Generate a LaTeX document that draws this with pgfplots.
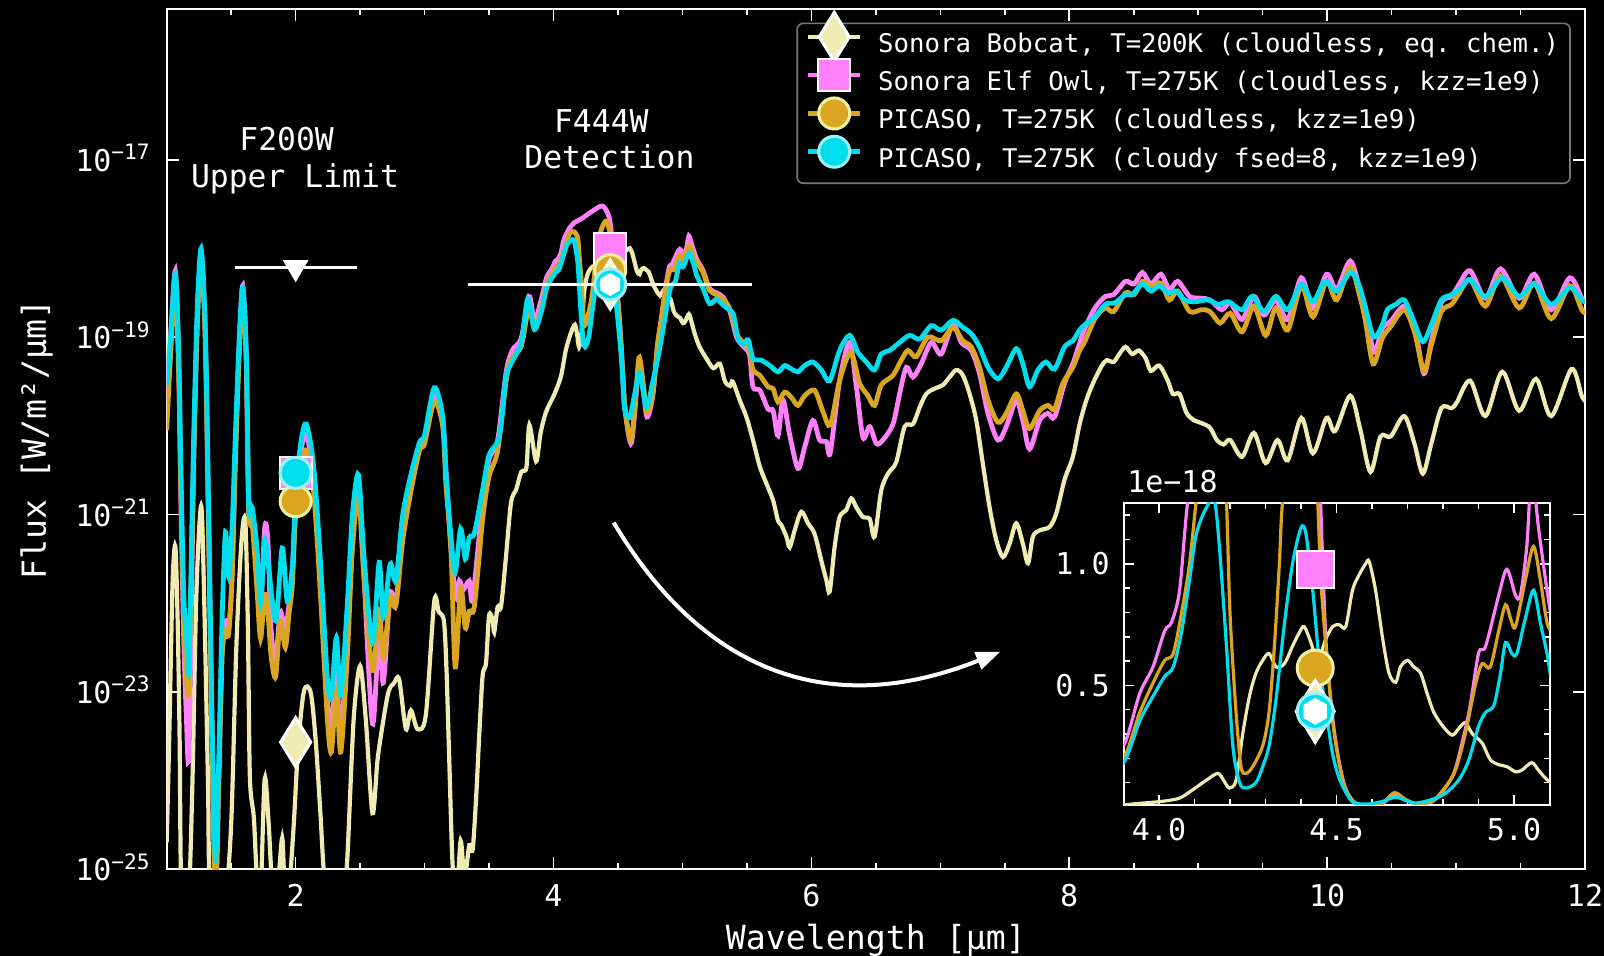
\documentclass[border=0pt]{standalone}
\usepackage{fontspec}
\setmainfont{DejaVu Sans Mono}
\usepackage{pgfplots}
\pgfplotsset{compat=1.18}
\usepackage{pgfplotstable}
\usetikzlibrary{arrows.meta}

\definecolor{bobc}{RGB}{238,236,178}
\definecolor{elfc}{RGB}{255,128,250}
\definecolor{goldc}{RGB}{218,165,32}
\definecolor{cyanc}{RGB}{0,222,238}
\definecolor{cyanlt}{RGB}{160,240,248}
\definecolor{paleedge}{RGB}{240,240,160}
\definecolor{legendgray}{RGB}{120,120,120}

\newcommand{\tickfont}{\fontsize{15}{18}\selectfont}
\newcommand{\labfont}{\fontsize{16.6}{20}\selectfont}
\newcommand{\annfont}{\fontsize{15.7}{19}\selectfont}
\newcommand{\legfont}{\fontsize{12.85}{15}\selectfont}
\newcommand{\expo}[1]{10\raisebox{5.85pt}{\fontsize{10.6}{12}\selectfont #1}}

\pgfdeclareplotmark{hexagon*}{%
  \pgfpathmoveto{\pgfqpointpolar{90}{\pgfplotmarksize}}%
  \pgfpathlineto{\pgfqpointpolar{150}{\pgfplotmarksize}}%
  \pgfpathlineto{\pgfqpointpolar{210}{\pgfplotmarksize}}%
  \pgfpathlineto{\pgfqpointpolar{270}{\pgfplotmarksize}}%
  \pgfpathlineto{\pgfqpointpolar{330}{\pgfplotmarksize}}%
  \pgfpathlineto{\pgfqpointpolar{30}{\pgfplotmarksize}}%
  \pgfpathclose
  \pgfusepathqfillstroke
}

% columns: wavelength [um], log10 flux [W/m^2/um]
\pgfplotstableread{
x lf
1.00 -24.7
1.02 -23.5
1.045 -21.8
1.067 -21.36
1.085 -22.2
1.10 -23.5
1.115 -25.3
1.17 -25.3
1.20 -24.0
1.23 -21.9
1.267 -20.9
1.29 -21.9
1.32 -24.0
1.34 -25.3
1.45 -25.3
1.50 -24.5
1.54 -22.5
1.58 -21.3
1.61 -21.08
1.63 -22.3
1.645 -23.96
1.676 -24.42
1.70 -25.1
1.73 -25.2
1.76 -23.98
1.79 -24.47
1.82 -25.2
1.86 -25.2
1.896 -24.65
1.915 -25.2
1.95 -25.2
1.987 -24.46
2.02 -23.6
2.065 -22.99
2.117 -23.01
2.155 -23.54
2.19 -24.32
2.23 -25.2
2.30 -25.3
2.37 -25.2
2.40 -24.9
2.45 -23.31
2.50 -22.71
2.544 -23.31
2.596 -24.37
2.635 -23.77
2.674 -23.38
2.72 -23.0
2.764 -22.9
2.803 -22.86
2.855 -23.42
2.894 -23.21
2.945 -23.42
3.01 -23.26
3.075 -21.98
3.11 -22.1
3.15 -22.2
3.17 -22.75
3.19 -23.7
3.218 -24.97
3.25 -25.3
3.28 -24.68
3.31 -25.1
3.347 -24.73
3.373 -24.78
3.40 -24.19
3.425 -23.46
3.45 -22.82
3.477 -22.67
3.50 -22.14
3.528 -22.19
3.54 -22.33
3.567 -22.04
3.593 -22.04
3.63 -21.5
3.67 -20.87
3.71 -20.72
3.75 -20.52
3.79 -20.47
3.813 -19.99
3.865 -20.4
3.90 -20.08
3.943 -19.84
4.008 -19.64
4.058 -19.44
4.095 -19.15
4.133 -18.96
4.166 -18.86
4.184 -18.98
4.198 -19.11
4.217 -18.96
4.236 -18.52
4.255 -18.34
4.273 -18.26
4.292 -18.22
4.31 -18.20
4.33 -18.24
4.353 -18.23
4.376 -18.18
4.395 -18.145
4.409 -18.13
4.428 -18.17
4.447 -18.22
4.47 -18.16
4.489 -18.13
4.507 -18.125
4.526 -18.13
4.545 -18.05
4.564 -18.02
4.582 -18.0
4.592 -17.996
4.61 -18.05
4.63 -18.16
4.648 -18.26
4.667 -18.29
4.68 -18.24
4.70 -18.22
4.718 -18.24
4.737 -18.26
4.755 -18.33
4.774 -18.41
4.80 -18.48
4.826 -18.53
4.845 -18.49
4.863 -18.46
4.882 -18.52
4.91 -18.58
4.933 -18.71
4.957 -18.76
4.98 -18.78
5.004 -18.84
5.022 -18.82
5.05 -18.74
5.069 -18.82
5.093 -18.95
5.13 -19.1
5.19 -19.25
5.24 -19.35
5.29 -19.3
5.33 -19.5
5.37 -19.55
5.39 -19.5
5.444 -19.71
5.496 -19.9
5.547 -20.16
5.60 -20.46
5.651 -20.65
5.703 -20.84
5.741 -21.07
5.767 -21.12
5.806 -21.25
5.832 -21.37
5.87 -21.18
5.922 -20.97
5.974 -21.1
6.025 -21.22
6.077 -21.52
6.116 -21.74
6.142 -21.87
6.18 -21.37
6.219 -21.03
6.27 -20.95
6.31 -20.82
6.349 -20.92
6.40 -21.03
6.452 -21.05
6.49 -21.25
6.542 -20.73
6.594 -20.54
6.658 -20.41
6.723 -20.01
6.788 -19.98
6.84 -19.79
6.891 -19.64
6.956 -19.58
7.02 -19.54
7.072 -19.45
7.124 -19.37
7.175 -19.43
7.227 -19.64
7.279 -19.94
7.33 -20.43
7.382 -20.92
7.434 -21.29
7.486 -21.48
7.537 -21.33
7.589 -21.1
7.64 -21.33
7.68 -21.55
7.718 -21.25
7.77 -21.18
7.847 -21.14
7.899 -20.99
7.963 -20.61
8.028 -20.35
8.082 -19.97
8.135 -19.7
8.187 -19.51
8.253 -19.32
8.292 -19.26
8.344 -19.28
8.384 -19.2
8.436 -19.11
8.488 -19.19
8.54 -19.15
8.593 -19.24
8.633 -19.38
8.698 -19.32
8.764 -19.49
8.803 -19.64
8.855 -19.64
8.908 -19.85
8.96 -19.93
9.026 -19.97
9.091 -20.02
9.144 -20.16
9.196 -20.21
9.248 -20.16
9.34 -20.35
9.432 -20.08
9.523 -20.42
9.615 -20.16
9.694 -20.39
9.80 -19.91
9.89 -20.31
9.995 -19.91
10.061 -20.06
10.179 -19.66
10.257 -20.04
10.336 -20.52
10.414 -20.12
10.493 -20.12
10.598 -19.89
10.677 -20.2
10.742 -20.54
10.808 -20.2
10.886 -19.8
10.965 -19.8
11.004 -19.74
11.109 -19.49
11.227 -19.89
11.358 -19.39
11.489 -19.83
11.62 -19.47
11.738 -19.89
11.895 -19.36
11.974 -19.66
12.0 -19.72
}\bobcat

\pgfplotstableread{
x lf
1.00 -19.7
1.03 -19.0
1.067 -18.25
1.093 -19.3
1.111 -20.9
1.132 -22.4
1.153 -23.3
1.171 -23.73
1.197 -21.5
1.21 -20.4
1.236 -18.9
1.267 -18.05
1.30 -19.0
1.326 -21.2
1.352 -23.5
1.378 -25.3
1.404 -24.0
1.43 -22.5
1.456 -22.2
1.48 -22.3
1.507 -21.7
1.533 -20.3
1.565 -19.0
1.59 -18.42
1.617 -19.2
1.637 -20.95
1.663 -21.0
1.70 -21.5
1.728 -22.1
1.76 -21.15
1.785 -21.3
1.81 -22.3
1.845 -22.65
1.88 -22.1
1.92 -22.3
1.95 -22.0
1.974 -21.7
2.00 -20.9
2.04 -20.3
2.083 -20.1
2.14 -20.6
2.19 -21.7
2.246 -23.1
2.277 -23.4
2.316 -22.8
2.35 -23.5
2.40 -22.4
2.44 -21.3
2.487 -20.7
2.53 -21.7
2.596 -23.36
2.648 -22.3
2.68 -22.9
2.733 -21.9
2.777 -22.0
2.83 -21.2
2.894 -20.7
2.96 -20.25
3.00 -20.15
3.075 -19.65
3.14 -19.95
3.166 -20.5
3.205 -21.4
3.243 -21.94
3.27 -21.75
3.30 -21.85
3.347 -21.75
3.373 -21.95
3.45 -20.87
3.50 -20.38
3.567 -20.16
3.632 -19.4
3.68 -19.15
3.75 -19.01
3.81 -18.54
3.852 -18.81
3.904 -18.58
3.946 -18.33
3.983 -18.24
4.016 -18.14
4.035 -18.12
4.058 -18.05
4.081 -17.90
4.12 -17.78
4.16 -17.71
4.22 -17.66
4.30 -17.58
4.38 -17.52
4.43 -17.64
4.455 -17.90
4.47 -18.16
4.489 -18.43
4.507 -18.72
4.526 -19.12
4.554 -19.8
4.60 -20.2
4.63 -19.85
4.663 -19.3
4.694 -19.55
4.725 -19.9
4.77 -19.66
4.807 -19.1
4.835 -18.8
4.873 -18.41
4.90 -18.20
4.92 -18.18
4.957 -18.06
4.98 -18.01
5.004 -18.06
5.018 -18.06
5.036 -17.97
5.05 -17.86
5.069 -17.94
5.093 -18.05
5.11 -18.12
5.16 -18.25
5.21 -18.45
5.264 -18.5
5.316 -18.55
5.37 -18.72
5.42 -19.0
5.47 -19.1
5.52 -19.2
5.547 -19.56
5.60 -19.6
5.664 -19.81
5.703 -19.83
5.741 -20.11
5.78 -19.71
5.83 -20.09
5.896 -20.48
5.948 -20.24
6.012 -19.94
6.064 -20.16
6.116 -20.18
6.147 -20.3
6.219 -19.49
6.297 -19.06
6.349 -19.56
6.40 -20.13
6.452 -20.01
6.504 -20.2
6.555 -20.16
6.633 -19.98
6.684 -19.64
6.736 -19.34
6.788 -19.45
6.852 -19.3
6.93 -19.06
7.007 -19.19
7.098 -18.85
7.162 -19.06
7.24 -19.15
7.304 -19.41
7.37 -19.86
7.447 -20.16
7.511 -20.01
7.589 -19.71
7.64 -19.94
7.692 -20.26
7.77 -19.94
7.834 -19.86
7.886 -19.9
7.963 -19.52
8.028 -19.3
8.08 -19.07
8.12 -18.9
8.20 -18.67
8.28 -18.54
8.344 -18.52
8.436 -18.37
8.502 -18.4
8.567 -18.27
8.633 -18.4
8.711 -18.29
8.777 -18.46
8.842 -18.37
8.934 -18.54
9.026 -18.56
9.091 -18.58
9.183 -18.69
9.248 -18.61
9.34 -18.8
9.432 -18.54
9.51 -18.75
9.602 -18.58
9.694 -18.8
9.80 -18.33
9.89 -18.67
9.995 -18.29
10.074 -18.46
10.179 -18.14
10.257 -18.48
10.297 -18.67
10.362 -19.17
10.428 -18.9
10.493 -18.82
10.598 -18.65
10.677 -18.86
10.75 -19.41
10.808 -19.05
10.886 -18.61
10.965 -18.54
11.017 -18.42
11.109 -18.25
11.227 -18.56
11.345 -18.23
11.489 -18.56
11.607 -18.29
11.738 -18.69
11.882 -18.33
11.974 -18.56
12.0 -18.6
}\elfowl

\pgfplotstableread{
x lf
1.00 -20.05
1.03 -19.2
1.067 -18.4
1.093 -19.4
1.111 -20.8
1.132 -22.1
1.153 -22.85
1.171 -22.95
1.197 -21.3
1.21 -20.3
1.236 -18.9
1.267 -18.1
1.30 -19.1
1.326 -21.3
1.352 -23.6
1.378 -25.3
1.404 -24.0
1.43 -22.6
1.456 -22.3
1.48 -22.35
1.507 -21.7
1.533 -20.4
1.565 -19.1
1.59 -18.55
1.617 -19.3
1.637 -21.0
1.663 -21.1
1.70 -21.84
1.728 -22.4
1.76 -21.9
1.785 -22.1
1.81 -22.6
1.845 -22.83
1.88 -22.2
1.92 -22.5
1.95 -22.1
1.974 -21.8
2.00 -21.0
2.04 -20.5
2.083 -20.28
2.14 -20.75
2.19 -21.84
2.246 -23.3
2.277 -23.68
2.316 -22.99
2.35 -23.68
2.40 -22.62
2.44 -21.4
2.487 -20.78
2.53 -21.7
2.596 -22.76
2.648 -22.08
2.68 -22.62
2.733 -21.94
2.777 -22.03
2.83 -21.3
2.894 -20.74
2.96 -20.28
3.00 -20.2
3.075 -19.73
3.14 -20.0
3.166 -20.67
3.205 -21.4
3.238 -22.72
3.28 -21.82
3.316 -22.28
3.347 -22.09
3.386 -22.04
3.45 -21.06
3.50 -20.57
3.567 -20.28
3.632 -19.5
3.67 -19.25
3.75 -19.1
3.81 -18.66
3.852 -18.91
3.904 -18.68
3.946 -18.41
3.988 -18.28
4.016 -18.22
4.04 -18.20
4.063 -18.10
4.086 -18.0
4.105 -17.90
4.13 -17.82
4.16 -17.81
4.18 -17.85
4.19 -17.90
4.20 -18.10
4.217 -18.41
4.231 -18.78
4.245 -18.86
4.264 -18.78
4.292 -18.60
4.31 -18.41
4.325 -18.18
4.339 -18.0
4.348 -17.90
4.38 -17.75
4.41 -17.69
4.435 -17.8
4.447 -17.90
4.456 -18.03
4.47 -18.18
4.489 -18.45
4.507 -18.74
4.526 -19.15
4.554 -19.8
4.60 -20.16
4.63 -19.8
4.663 -19.23
4.694 -19.5
4.725 -19.84
4.77 -19.64
4.807 -19.08
4.835 -18.82
4.863 -18.52
4.891 -18.30
4.91 -18.23
4.933 -18.24
4.957 -18.14
4.976 -18.08
4.99 -18.11
5.004 -18.13
5.032 -18.03
5.055 -17.97
5.074 -18.03
5.093 -18.12
5.11 -18.15
5.16 -18.27
5.21 -18.47
5.264 -18.52
5.316 -18.57
5.37 -18.69
5.42 -18.96
5.47 -19.06
5.52 -19.15
5.547 -19.37
5.60 -19.43
5.664 -19.56
5.703 -19.58
5.741 -19.73
5.793 -19.62
5.845 -19.68
5.896 -19.77
5.948 -19.66
6.025 -19.6
6.09 -19.84
6.147 -19.99
6.219 -19.49
6.305 -19.17
6.374 -19.52
6.439 -19.66
6.49 -19.77
6.542 -19.54
6.633 -19.43
6.697 -19.26
6.749 -19.15
6.813 -19.22
6.904 -19.0
7.007 -19.04
7.098 -18.89
7.175 -19.04
7.24 -19.11
7.304 -19.34
7.37 -19.71
7.447 -19.96
7.511 -19.86
7.589 -19.64
7.64 -19.83
7.692 -20.03
7.77 -19.83
7.834 -19.77
7.886 -19.81
7.95 -19.52
8.028 -19.34
8.08 -19.15
8.12 -19.05
8.20 -18.79
8.28 -18.67
8.344 -18.71
8.436 -18.5
8.502 -18.52
8.567 -18.37
8.633 -18.42
8.711 -18.39
8.777 -18.58
8.842 -18.48
8.934 -18.71
9.026 -18.69
9.091 -18.71
9.17 -18.84
9.248 -18.73
9.34 -18.94
9.432 -18.65
9.523 -18.98
9.602 -18.67
9.694 -18.92
9.80 -18.42
9.89 -18.77
9.995 -18.37
10.074 -18.58
10.179 -18.21
10.257 -18.56
10.297 -18.82
10.357 -19.3
10.428 -19.01
10.493 -18.88
10.598 -18.69
10.677 -18.94
10.75 -19.38
10.808 -19.09
10.886 -18.71
10.965 -18.63
11.017 -18.52
11.109 -18.35
11.227 -18.65
11.345 -18.31
11.489 -18.67
11.607 -18.39
11.738 -18.79
11.882 -18.42
11.974 -18.69
12.0 -18.72
}\picaso

\pgfplotstableread{
x lf
1.00 -19.54
1.03 -19.0
1.067 -18.28
1.093 -19.17
1.111 -20.55
1.132 -21.89
1.153 -22.39
1.171 -22.76
1.197 -21.0
1.21 -20.09
1.236 -18.71
1.267 -18.0
1.30 -18.94
1.326 -21.0
1.352 -23.31
1.378 -24.9
1.404 -23.76
1.43 -22.16
1.456 -21.2
1.48 -21.7
1.507 -21.15
1.533 -20.09
1.565 -18.94
1.59 -18.44
1.617 -19.17
1.637 -20.92
1.663 -20.92
1.70 -21.38
1.728 -22.0
1.76 -21.29
1.785 -21.52
1.845 -22.2
1.896 -21.38
1.935 -21.98
1.974 -21.59
2.00 -20.78
2.04 -20.19
2.083 -19.98
2.14 -20.46
2.19 -21.47
2.246 -22.85
2.277 -23.04
2.316 -22.39
2.35 -23.04
2.40 -22.03
2.44 -21.01
2.487 -20.55
2.53 -21.47
2.596 -22.44
2.648 -21.54
2.68 -22.16
2.733 -21.56
2.777 -21.74
2.83 -21.01
2.894 -20.55
2.96 -20.19
3.00 -20.1
3.075 -19.57
3.14 -19.89
3.166 -20.52
3.205 -21.26
3.238 -21.65
3.28 -21.16
3.316 -21.5
3.347 -21.26
3.386 -21.21
3.45 -20.72
3.50 -20.33
3.567 -20.18
3.593 -19.99
3.632 -19.45
3.67 -19.30
3.75 -19.06
3.80 -18.57
3.852 -18.91
3.904 -18.72
3.946 -18.45
3.988 -18.33
4.016 -18.27
4.04 -18.24
4.063 -18.145
4.086 -18.03
4.105 -17.95
4.133 -17.91
4.156 -17.90
4.17 -17.97
4.19 -18.18
4.208 -18.60
4.227 -19.0
4.245 -19.11
4.273 -19.0
4.292 -18.78
4.31 -18.6
4.33 -18.35
4.353 -18.125
4.376 -18.0
4.40 -17.94
4.414 -17.95
4.433 -18.05
4.451 -18.22
4.47 -18.40
4.489 -18.66
4.507 -18.92
4.53 -19.3
4.55 -19.79
4.59 -19.91
4.63 -19.64
4.668 -19.4
4.72 -19.79
4.77 -19.5
4.807 -19.25
4.845 -18.95
4.873 -18.71
4.90 -18.48
4.92 -18.41
4.943 -18.38
4.962 -18.26
4.976 -18.17
4.994 -18.20
5.008 -18.20
5.032 -18.11
5.055 -18.05
5.074 -18.12
5.093 -18.2
5.11 -18.3
5.16 -18.45
5.21 -18.62
5.264 -18.57
5.303 -18.62
5.342 -18.67
5.394 -18.74
5.43 -19.01
5.47 -19.08
5.51 -19.03
5.547 -19.24
5.612 -19.26
5.677 -19.32
5.741 -19.39
5.793 -19.32
5.845 -19.36
5.896 -19.39
5.948 -19.32
6.012 -19.28
6.077 -19.37
6.142 -19.49
6.219 -19.15
6.297 -18.98
6.361 -19.17
6.426 -19.28
6.49 -19.37
6.542 -19.19
6.607 -19.15
6.684 -19.06
6.762 -18.98
6.84 -19.02
6.93 -18.87
7.007 -18.92
7.098 -18.81
7.175 -18.89
7.24 -18.96
7.304 -19.11
7.37 -19.34
7.447 -19.47
7.511 -19.34
7.589 -19.13
7.64 -19.30
7.692 -19.56
7.757 -19.37
7.82 -19.28
7.886 -19.36
7.963 -19.11
8.028 -19.04
8.08 -18.92
8.12 -18.86
8.20 -18.77
8.28 -18.63
8.357 -18.61
8.436 -18.52
8.488 -18.52
8.567 -18.4
8.633 -18.48
8.698 -18.42
8.764 -18.5
8.829 -18.48
8.895 -18.58
8.973 -18.6
9.078 -18.58
9.157 -18.63
9.235 -18.6
9.34 -18.69
9.419 -18.54
9.51 -18.71
9.602 -18.54
9.694 -18.69
9.80 -18.4
9.89 -18.6
9.982 -18.37
10.074 -18.48
10.179 -18.27
10.244 -18.4
10.297 -18.67
10.362 -19.0
10.428 -18.86
10.467 -18.69
10.533 -18.63
10.598 -18.58
10.664 -18.79
10.742 -19.05
10.808 -18.86
10.886 -18.58
10.965 -18.52
11.043 -18.44
11.109 -18.35
11.227 -18.54
11.358 -18.33
11.489 -18.54
11.607 -18.40
11.738 -18.63
11.882 -18.44
11.974 -18.58
12.0 -18.6
}\cloudy

\begin{document}
\frenchspacing
\begin{tikzpicture}
\fill[black] (-83.35pt,-43.5pt) rectangle (718.65pt,434.5pt);
\useasboundingbox (-83.35pt,-43.5pt) rectangle (718.65pt,434.5pt);

\begin{axis}[
  at={(0pt,0pt)}, anchor=south west,
  scale only axis, width=709.15pt, height=429.85pt,
  xmin=1, xmax=12, ymode=log, ymin=1e-25, ymax=5e-16,
  clip mode=individual,
  axis line style={white, line width=1pt},
  tick style={white, line width=0.8pt},
  major tick length=6pt, minor tick length=3pt, tick align=inside,
  xtick={2,4,6,8,10,12}, xticklabels={2,4,6,8,10,12},
  minor xtick={1,1.5,2.5,3,3.5,4.5,5,5.5,6.5,7,7.5,8.5,9,9.5,10.5,11,11.5},
  ytick={1e-25,1e-23,1e-21,1e-19,1e-17},
  yticklabels={\expo{−25},\expo{−23},\expo{−21},\expo{−19},\expo{−17}},
  yminorticks=false,
  xticklabel style={font=\tickfont, text=white, anchor=base, yshift=-18.5pt, inner sep=0pt},
  yticklabel style={font=\tickfont, text=white, anchor=base east, yshift=-5.85pt, xshift=-8.3pt, inner sep=0pt},
  xlabel={Wavelength [μm]}, ylabel={Flux [W/m²/μm]},
  every axis x label/.style={at={([yshift=-40pt]axis description cs:0.5,0)}, anchor=base, font=\labfont, text=white},
  every axis y label/.style={at={([xshift=-60.35pt]axis description cs:0,0.5)}, rotate=90, anchor=base, font=\labfont, text=white},
  legend cell align=left,
  legend style={at={(0.990,0.9846)}, anchor=north east,
    fill=black, draw=legendgray, line width=0.8pt, rounded corners=3pt,
    font=\legfont, text=white, inner xsep=5.5pt, inner ysep=5pt,
    row sep=6.65pt, column sep=9pt,
    nodes={inner sep=0pt, text height=9.5pt, text depth=3pt, text=white}},
  legend image code/.code={%
    \path[draw=none, fill=none] (0pt,0pt) rectangle (26pt,1pt);
    \draw[sharp corners, overlay, #1, mark=none, fill=none] (0pt,4.5pt) -- (26pt,4.5pt);
    \path[sharp corners, overlay, draw=none, fill=none, #1] plot coordinates {(13pt,4.5pt)};
  },
]
% legend entries
\addlegendimage{color=bobc, line width=2.3pt, mark=diamond*, mark size=12.25pt, mark options={fill=bobc, draw=white, line width=1.5pt, xscale=0.82}}
\addlegendentry{Sonora Bobcat, T=200K (cloudless, eq. chem.)}
\addlegendimage{color=elfc, line width=2.3pt, mark=square*, mark size=8pt, mark options={fill=elfc, draw=white, line width=1pt}}
\addlegendentry{Sonora Elf Owl, T=275K (cloudless, kzz=1e9)}
\addlegendimage{color=goldc, line width=2.3pt, mark=*, mark size=7.75pt, mark options={fill=goldc, draw=paleedge, line width=1.5pt}}
\addlegendentry{PICASO, T=275K (cloudless, kzz=1e9)}
\addlegendimage{color=cyanc, line width=2.3pt, mark=*, mark size=7.75pt, mark options={fill=cyanc, draw=cyanlt, line width=1.5pt}}
\addlegendentry{PICASO, T=275K (cloudy fsed=8, kzz=1e9)}

% spectra
\addplot[bobc, line width=2.1pt, smooth, forget plot] table[x=x, y expr=10^(\thisrow{lf})] {\bobcat};
\addplot[elfc, line width=2.4pt, smooth, forget plot] table[x=x, y expr=10^(\thisrow{lf})] {\elfowl};
\addplot[goldc, line width=2.4pt, smooth, forget plot] table[x=x, y expr=10^(\thisrow{lf})] {\picaso};
\addplot[cyanc, line width=2.4pt, smooth, forget plot] table[x=x, y expr=10^(\thisrow{lf})] {\cloudy};

% filter widths (F200W upper limit, F444W detection)
\addplot[white, line width=1.9pt, forget plot] coordinates {(1.531,6.1e-19) (2.474,6.1e-19)};
\addplot[white, line width=1.9pt, forget plot] coordinates {(3.336,3.93e-19) (5.543,3.93e-19)};

% model photometry
\addplot[only marks, mark=square*, mark size=8pt, mark options={fill=elfc, draw=white, line width=1pt}, forget plot] coordinates {(2.0,2.95e-21) (4.44,9.8e-19)};
\addplot[only marks, mark=*, mark size=7.75pt, mark options={fill=goldc, draw=paleedge, line width=1.5pt}, forget plot] coordinates {(2.0,1.41e-21) (4.44,5.7e-19)};
\addplot[only marks, mark=diamond*, mark size=12.25pt, mark options={fill=bobc, draw=white, line width=1.5pt, xscale=0.82}, forget plot] coordinates {(2.0,2.7e-24) (4.44,3.93e-19)};
\addplot[only marks, mark=*, mark size=7.75pt, mark options={fill=cyanc, draw=cyanlt, line width=1.5pt}, forget plot] coordinates {(2.0,2.95e-21) (4.44,3.93e-19)};
% observations
\addplot[only marks, mark=triangle*, mark size=7pt, mark options={fill=white, draw=white, rotate=180}, forget plot] coordinates {(2.0,6.1e-19)};
\addplot[only marks, mark=hexagon*, mark size=5.5pt, mark options={fill=white, draw=white}, forget plot] coordinates {(4.44,3.93e-19)};

\node[anchor=base, text=white, font=\annfont, inner sep=0pt] at (axis cs:1.930,1.276e-17) {F200W};
\node[anchor=base, text=white, font=\annfont, inner sep=0pt] at (axis cs:1.995,4.92e-18) {Upper Limit};
\node[anchor=base, text=white, font=\annfont, inner sep=0pt] at (axis cs:4.371,2.06e-17) {F444W};
\node[anchor=base, text=white, font=\annfont, inner sep=0pt] at (axis cs:4.434,7.94e-18) {Detection};

\draw[white, line width=2pt, -{Triangle[length=12pt, width=9pt]}]
  (axis cs:4.467,8.1e-22) .. controls (axis cs:5.171,1.53e-23) and (axis cs:6.168,4.95e-24) .. (axis cs:7.464,2.82e-23);
\end{axis}

\begin{axis}[
  at={(478.4pt,32pt)}, anchor=south west,
  scale only axis, width=213pt, height=151pt,
  xmin=3.9, xmax=5.1, ymin=0.008, ymax=1.25,
  clip mode=individual,
  axis background/.style={fill=black},
  axis line style={white, line width=1pt},
  tick style={white, line width=0.8pt},
  major tick length=5pt, minor tick length=3pt, tick align=inside,
  xtick={4,4.5,5}, xticklabels={4.0,4.5,5.0},
  minor xtick={4.1,4.2,4.3,4.4,4.6,4.7,4.8,4.9},
  ytick={0.5,1.0}, yticklabels={0.5,1.0},
  minor ytick={0.1,0.2,0.3,0.4,0.6,0.7,0.8,0.9,1.1,1.2},
  xticklabel style={font=\tickfont, text=white, anchor=base, yshift=-18pt, inner sep=0pt},
  yticklabel style={font=\tickfont, text=white, anchor=base east, yshift=-5.5pt, xshift=-6.75pt, inner sep=0pt},
]
\addplot[bobc, line width=1.6pt, smooth, restrict x to domain=3.7:5.3] table[x=x, y expr=10^(\thisrow{lf}+18)] {\bobcat};
\addplot[elfc, line width=1.6pt, smooth, restrict x to domain=3.7:5.3] table[x=x, y expr=10^(\thisrow{lf}+18)] {\elfowl};
\addplot[goldc, line width=1.6pt, smooth, restrict x to domain=3.7:5.3] table[x=x, y expr=10^(\thisrow{lf}+18)] {\picaso};
\addplot[cyanc, line width=1.6pt, smooth, restrict x to domain=3.7:5.3] table[x=x, y expr=10^(\thisrow{lf}+18)] {\cloudy};

\addplot[only marks, mark=square*, mark size=9.3pt, mark options={fill=elfc, draw=white, line width=1pt}] coordinates {(4.44,0.977)};
\addplot[only marks, mark=*, mark size=9pt, mark options={fill=goldc, draw=paleedge, line width=1.5pt}] coordinates {(4.44,0.571)};
\addplot[only marks, mark=diamond*, mark size=15.5pt, mark options={fill=bobc, draw=white, line width=1.5pt, xscale=0.82}] coordinates {(4.44,0.393)};
\addplot[only marks, mark=*, mark size=9pt, mark options={fill=cyanc, draw=cyanlt, line width=1.5pt}] coordinates {(4.44,0.393)};
\addplot[only marks, mark=hexagon*, mark size=6.5pt, mark options={fill=white, draw=white}] coordinates {(4.44,0.393)};

\node[anchor=base west, text=white, font=\tickfont, inner sep=0pt] at ([xshift=1.7pt, yshift=5pt]rel axis cs:0,1) {1e−18};
\end{axis}
\end{tikzpicture}
\end{document}
